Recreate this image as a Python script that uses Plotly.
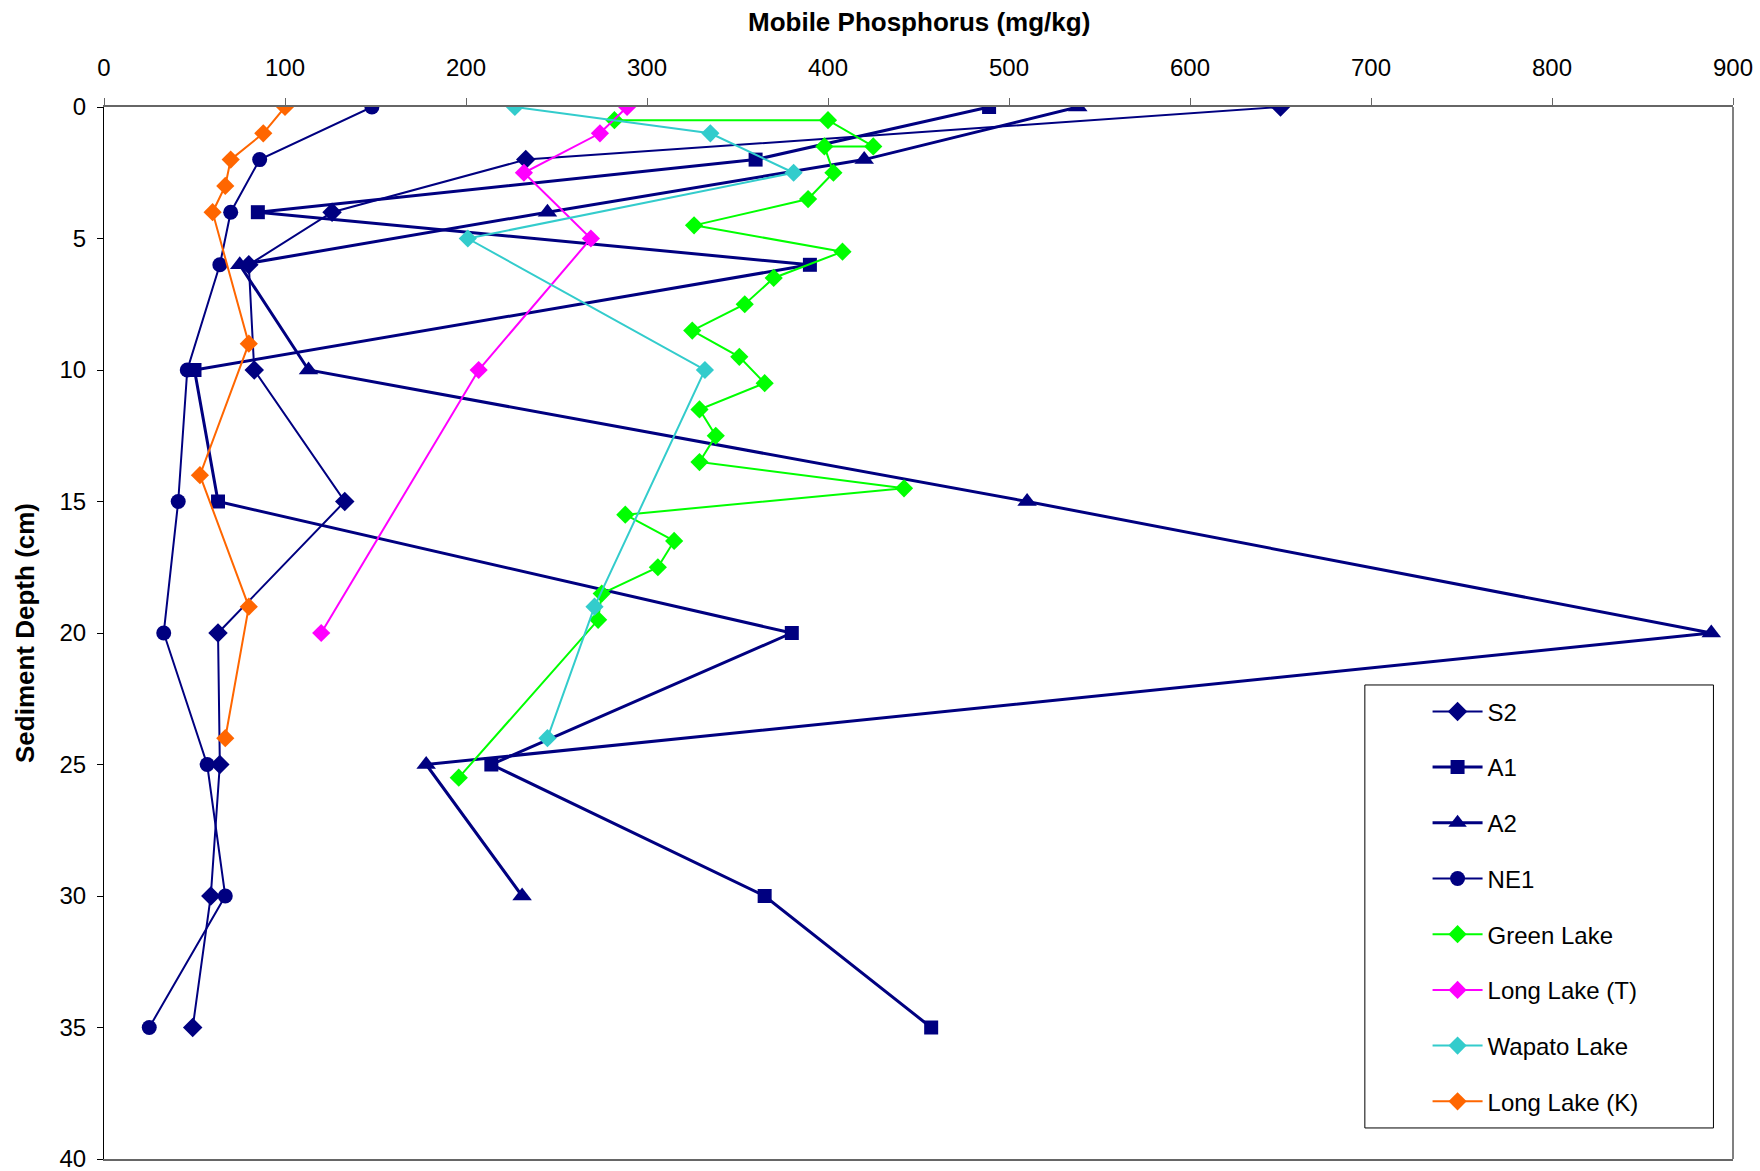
import plotly.graph_objects as go

# ---- data ----
s2_x = [650, 233, 126, 80, 83, 133, 63, 64, 59, 49]
s2_y = [0, 2, 4, 6, 10, 15, 20, 25, 30, 35]

a1_x = [489, 360, 85, 390, 50, 63, 380, 214, 365, 457]
a1_y = [0, 2, 4, 6, 10, 15, 20, 25, 30, 35]

a2_x = [538, 420, 245, 75, 113, 510, 888, 178, 231]
a2_y = [0, 2, 4, 6, 10, 15, 20, 25, 30]

ne1_x = [148, 86, 70, 64, 46, 41, 33, 57, 67, 25]
ne1_y = [0, 2, 4, 6, 10, 15, 20, 25, 30, 35]

green_x = [282, 400, 425, 398, 403, 389, 326, 408, 370, 354, 325, 351, 365, 329, 338, 329, 442, 288, 315, 306, 275, 273, 196]
green_y = [0.5, 0.5, 1.5, 1.5, 2.5, 3.5, 4.5, 5.5, 6.5, 7.5, 8.5, 9.5, 10.5, 11.5, 12.5, 13.5, 14.5, 15.5, 16.5, 17.5, 18.5, 19.5, 25.5]

longT_x = [289, 274, 232, 269, 207, 120]
longT_y = [0, 1, 2.5, 5, 10, 20]

wapato_x = [227, 335, 381, 201, 332, 271, 245]
wapato_y = [0, 1, 2.5, 5, 10, 19, 24]

longK_x = [100, 88, 70, 67, 60, 80, 53, 80, 67]
longK_y = [0, 1, 2, 3, 4, 9, 14, 19, 24]

x_ticks = [0, 100, 200, 300, 400, 500, 600, 700, 800, 900]
y_ticks = [0, 5, 10, 15, 20, 25, 30, 35, 40]

NAVY = "#000080"
series = [
    ("S2", s2_x, s2_y, NAVY, "diamond", 15, 2),
    ("A1", a1_x, a1_y, NAVY, "square", 14, 3),
    ("A2", a2_x, a2_y, NAVY, "triangle-up", 17, 3),
    ("NE1", ne1_x, ne1_y, NAVY, "circle", 15, 2),
    ("Green Lake", green_x, green_y, "#00FF00", "diamond", 14, 2),
    ("Long Lake (T)", longT_x, longT_y, "#FF00FF", "diamond", 14, 2),
    ("Wapato Lake", wapato_x, wapato_y, "#33CCCC", "diamond", 14, 2),
    ("Long Lake (K)", longK_x, longK_y, "#FF6600", "diamond", 14, 2),
]

fig = go.Figure()
for i, (name, xs, ys, col, sym, ms, lw) in enumerate(series):
    fig.add_trace(go.Scatter(
        x=xs, y=ys, name=name, mode="lines+markers",
        line=dict(color=col, width=lw),
        marker=dict(color=col, symbol=sym, size=ms, line=dict(width=0)),
        legendgroup="g%d" % i,
    ))

FONT = "Liberation Sans, Arial, sans-serif"

fig.update_layout(
    width=1760, height=1171,
    margin=dict(l=104, r=27, t=107, b=12, autoexpand=False),
    paper_bgcolor="white", plot_bgcolor="white",
    showlegend=True,
    legend=dict(
        x=0.8125, y=0.4465, xanchor="left", yanchor="top",
        bgcolor="rgba(0,0,0,0)", borderwidth=0,
        font=dict(family=FONT, size=24, color="black"),
        tracegroupgap=21.5, itemwidth=50,
        traceorder="grouped",
    ),
    xaxis=dict(
        side="top", range=[0, 900], tickvals=x_ticks,
        showgrid=False, zeroline=False, automargin=False,
        showline=True, linecolor="#666666", linewidth=2, mirror=True,
        ticks="outside", ticklen=7, tickcolor="#666666",
        ticklabelstandoff=12, ticklabeloverflow="allow",
        tickfont=dict(family=FONT, size=24, color="black"),
    ),
    yaxis=dict(
        range=[40, 0], tickvals=y_ticks,
        showgrid=False, zeroline=False, automargin=False,
        showline=True, linecolor="black", linewidth=1, mirror=False,
        ticks="outside", ticklen=6, tickcolor="black",
        ticklabelstandoff=6, ticklabeloverflow="allow",
        tickfont=dict(family=FONT, size=24, color="black"),
    ),
    annotations=[
        dict(text="<b>Mobile Phosphorus (mg/kg)</b>", xref="paper", yref="paper",
             x=0.5, y=1.0808, xanchor="center", yanchor="middle", showarrow=False,
             font=dict(family=FONT, size=26, color="black")),
        dict(text="<b>Sediment Depth (cm)</b>", xref="paper", yref="paper",
             x=-0.0485, y=0.5, xanchor="center", yanchor="middle", showarrow=False,
             textangle=-90, font=dict(family=FONT, size=26, color="black")),
    ],
    shapes=[
        dict(type="line", xref="paper", yref="paper", x0=1, x1=1, y0=0, y1=1,
             line=dict(color="#808080", width=2)),
        dict(type="rect", xref="paper", yref="paper", x0=0.774, x1=0.988, y0=0.0295, y1=0.4506,
             line=dict(color="black", width=1), fillcolor="white", layer="below"),
    ],
)

fig.write_html(
    "out.html",
    config={"displayModeBar": False},
    post_script="document.body.style.margin='0';document.body.style.overflow='hidden';",
)
